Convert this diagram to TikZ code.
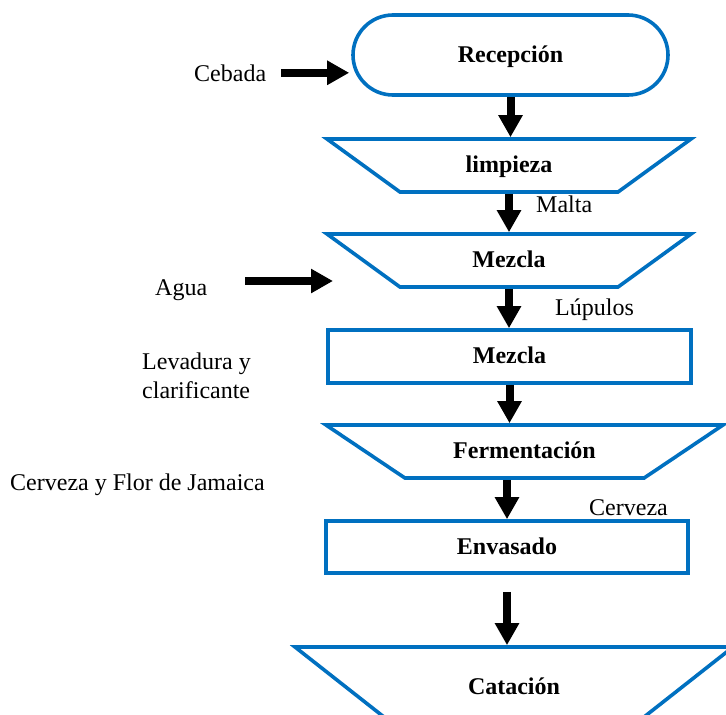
\documentclass[tikz,border=0pt]{standalone}
\usepackage{fontspec}
\setmainfont{Liberation Serif}
\usetikzlibrary{arrows.meta,shapes.geometric}
\definecolor{flowblue}{RGB}{0,112,192}
\begin{document}
\begin{tikzpicture}[x=1pt,y=-1pt,
  every node/.style={font=\fontsize{24}{29}\selectfont},
  box/.style={draw=flowblue, line width=3.6pt, fill=white, inner sep=0pt,
              text height=14pt, text depth=0pt,
              font=\fontsize{24}{29}\selectfont\bfseries},
  trap/.style={box, trapezium, trapezium stretches body=true,
               trapezium left angle=#1, trapezium right angle=#1},
  rbox/.style={box, rectangle},
  arr/.style={line width=8pt, -{Triangle[width=23pt,length=22pt]}},
  lbl/.style={anchor=base west, inner sep=0pt}]
\useasboundingbox (0,0) rectangle (726,715);
\clip (0,0) rectangle (726,715);

% process boxes
\node[box, rectangle, rounded corners=40pt, minimum width=315pt, minimum height=80pt] (recep) at (510.5,55) {Recepción};
\node[trap=144, inner ysep=19.5pt, minimum width=364pt] (limp) at (509,165.5) {limpieza};
\node[trap=144, inner ysep=19.5pt, minimum width=364pt] (mez1) at (509,260.5) {Mezcla};
\node[rbox, minimum width=363pt, minimum height=53pt] (mez2) at (509.5,356.5) {Mezcla};
\node[trap=146.1, inner ysep=19.5pt, minimum width=397pt] (ferm) at (524.5,451.5) {Fermentación};
\node[rbox, minimum width=362pt, minimum height=52pt] (env) at (507,547) {Envasado};
\node[trap=141.8, inner ysep=33pt, minimum width=438pt] (cata) at (514,687) {Catación};

% labels
\node[lbl] (cebada) at (194,81) {Cebada};
\node[lbl] (agua) at (155,295) {Agua};
\node[lbl, anchor=west, align=left] (lev) at (142,376) {Levadura y\\clarificante};
\node[lbl] (jam) at (10,490) {Cerveza y Flor de Jamaica};
\node[lbl] (malta) at (536,212) {Malta};
\node[lbl] (lup) at (555,315) {Lúpulos};
\node[lbl] (cerv) at (589,515) {Cerveza};

% free arrow ends
\coordinate (aguaS) at (245,281);
\coordinate (aguaE) at (333,281);

% connectors
\draw[arr, shorten <=15pt, shorten >=2pt] (cebada.east) -- (cebada.east -| recep.west);
\draw[arr] (aguaS) -- (aguaE);
\draw[arr] (recep.south) -- (recep.south |- limp.north);
\draw[arr] (limp.south) -- (limp.south |- mez1.north);
\draw[arr] (mez1.south) -- (mez1.south |- mez2.north);
\draw[arr] (mez2.south) -- (mez2.south |- ferm.north);
\draw[arr] (env.north |- ferm.south) -- (env.north);
\draw[arr, shorten <=17pt] (env.south) -- (env.south |- cata.north);
\end{tikzpicture}
\end{document}
